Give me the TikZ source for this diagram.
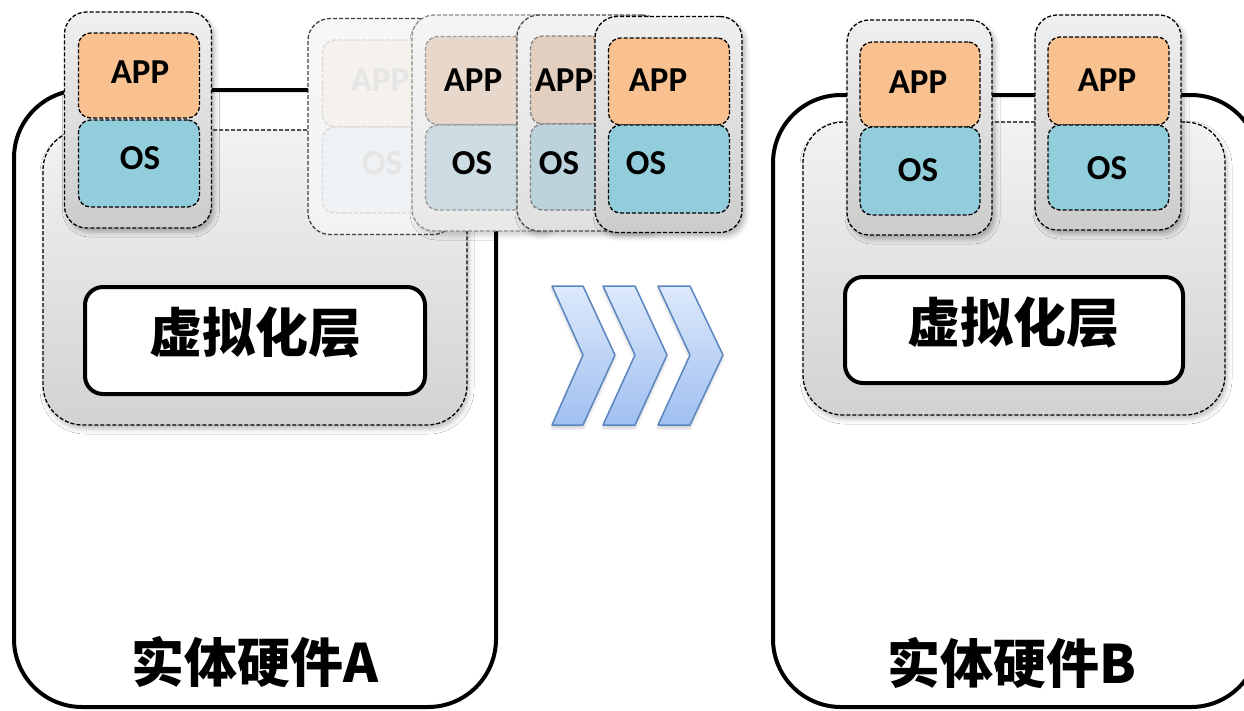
\documentclass[tikz,border=0pt]{standalone}
\usepackage{fontspec}
\setmainfont{Carlito}
\newfontfamily\cjk{Noto Sans CJK SC}
\usetikzlibrary{shadows.blur}
\definecolor{appc}{HTML}{F8C18F}
\definecolor{osc}{HTML}{92CDDC}
\definecolor{chevline}{HTML}{5A86C2}
\definecolor{chevtop}{HTML}{DDE9FB}
\definecolor{chevbot}{HTML}{A0BFF0}
\begin{document}
\begin{tikzpicture}[x=1pt,y=-1pt,
  dsh/.style={dash pattern=on 4pt off 2pt},
  hw/.style={draw=black, line width=4pt, fill=white, rounded corners=68pt, inner sep=0pt},
  layerbox/.style={draw=black, dsh, line width=1.3pt, top color=gray!10, bottom color=gray!35, rounded corners=40pt, inner sep=0pt,
     blur shadow={shadow xshift=2pt, shadow yshift=-4pt, shadow blur radius=5pt, shadow opacity=25}},
  virt/.style={draw=black, line width=4pt, fill=white, rounded corners=18pt, inner sep=0pt},
  vm/.style={dsh, line width=1.3pt, rounded corners=22pt, minimum width=147pt, minimum height=216pt, inner sep=0pt},
  vmfull/.style={vm, draw=black, top color=gray!12, bottom color=gray!40,
     blur shadow={shadow xshift=3pt, shadow yshift=-4pt, shadow blur radius=5pt, shadow opacity=30}},
  inbox/.style={dsh, line width=1.3pt, rounded corners=12pt, minimum width=121pt, inner sep=0pt},
  lbl/.style={font=\bfseries\fontsize{35}{35}\selectfont, inner sep=0pt},
  big/.style={font=\cjk\bfseries\fontsize{53}{53}\selectfont, inner sep=0pt},
  chev/.style={draw=chevline, line width=1.5pt, top color=chevtop, bottom color=chevbot, line join=round}
]
\useasboundingbox (0,0) rectangle (1244,710);

% ---------- Hardware A ----------
\node[hw, minimum width=482pt, minimum height=617pt] (hwA) at (255,398.5) {};
\node[layerbox, minimum width=424pt, minimum height=295pt] (layA) at (255,277.5) {};
\node[virt, minimum width=340pt, minimum height=107pt] (virtA) at (255,340.5) {};
\node[big] (virtAt) at (255,333) {虚拟化层};
\node[big] (hwAt) at (255,662) {实体硬件A};

% VM A1
\node[vmfull] (vmA1) at (138,120) {};
\node[inbox, draw=black, fill=appc, minimum height=85pt] (appA1) at (139,75.5) {};
\node[inbox, draw=black, fill=osc, minimum height=87pt] (osA1) at (139,163.5) {};
\node[lbl] (appA1t) at (140,72) {APP};
\node[lbl] (osA1t) at (140,158) {OS};

% Ghost 1 (faint)
\node[vm, draw=black!75, top color=gray!6, bottom color=gray!10] (g1) at (381.5,126.5) {};
\node[inbox, draw=black!15, fill={rgb,255:red,245;green,241;blue,236}, minimum height=87pt] (g1app) at (383,83.5) {};
\node[inbox, draw=black!15, fill={rgb,255:red,238;green,242;blue,244}, minimum height=86pt] (g1os) at (383,170) {};
\node[lbl, text=black!10] (g1appt) at (380,80) {APP};
\node[lbl, text=black!10] (g1ost) at (382,163) {OS};

% Ghost 2
\node[vm, draw=black!45, top color=gray!8, bottom color=gray!18,
  blur shadow={shadow xshift=3pt, shadow yshift=-4pt, shadow blur radius=5pt, shadow opacity=20}] (g2) at (485.5,123) {};
\node[inbox, draw=black!40, fill={rgb,255:red,232;green,216;blue,203}, minimum height=88pt] (g2app) at (486,80.5) {};
\node[inbox, draw=black!40, fill={rgb,255:red,205;green,220;blue,226}, minimum height=85pt] (g2os) at (486,167.5) {};
\node[lbl] (g2appt) at (473,80) {APP};
\node[lbl] (g2ost) at (472,163) {OS};

% Ghost 3
\node[vm, draw=black!70, top color=gray!10, bottom color=gray!25,
  blur shadow={shadow xshift=3pt, shadow yshift=-4pt, shadow blur radius=5pt, shadow opacity=22}] (g3) at (590.5,123) {};
\node[inbox, draw=black!50, fill={rgb,255:red,226;green,207;blue,191}, minimum height=88pt] (g3app) at (591,80) {};
\node[inbox, draw=black!50, fill={rgb,255:red,188;green,211;blue,220}, minimum height=86pt] (g3os) at (591,167) {};
\node[lbl] (g3appt) at (564,80) {APP};
\node[lbl] (g3ost) at (559,163) {OS};

% Front VM
\node[vmfull] (vmF) at (668.5,124.5) {};
\node[inbox, draw=black, fill=appc, minimum height=87pt] (appF) at (669,81.5) {};
\node[inbox, draw=black, fill=osc, minimum height=88pt] (osF) at (669,169) {};
\node[lbl] (appFt) at (658,80) {APP};
\node[lbl] (osFt) at (646,163) {OS};

% ---------- Chevrons ----------
\shade[chev, blur shadow={shadow xshift=0pt, shadow yshift=-3pt, shadow blur radius=3pt, shadow opacity=20}]
  (552,286) -- (583,286) -- (615,355) -- (583,425) -- (552,425) -- (583,355) -- cycle;
\shade[chev, blur shadow={shadow xshift=0pt, shadow yshift=-3pt, shadow blur radius=3pt, shadow opacity=20}]
  (603,286) -- (635,286) -- (667,355) -- (635,425) -- (603,425) -- (635,355) -- cycle;
\shade[chev, blur shadow={shadow xshift=0pt, shadow yshift=-3pt, shadow blur radius=3pt, shadow opacity=20}]
  (658,286) -- (690,286) -- (723,355) -- (690,425) -- (658,425) -- (690,355) -- cycle;

% ---------- Hardware B ----------
\node[hw, minimum width=486pt, minimum height=612pt] (hwB) at (1016,401) {};
\node[layerbox, minimum width=422pt, minimum height=293pt] (layB) at (1014,268.5) {};
\node[virt, minimum width=338pt, minimum height=106pt] (virtB) at (1014,330) {};
\node[big] (virtBt) at (1013,323) {虚拟化层};
\node[big] (hwBt) at (1012,663) {实体硬件B};

% VM B1
\node[vmfull, minimum width=145pt, minimum height=215pt] (vmB1) at (919.5,127.5) {};
\node[inbox, draw=black, fill=appc, minimum width=120pt, minimum height=85pt] (appB1) at (920,84.5) {};
\node[inbox, draw=black, fill=osc, minimum width=120pt, minimum height=88pt] (osB1) at (920,171) {};
\node[lbl] (appB1t) at (918,82) {APP};
\node[lbl] (osB1t) at (918,170) {OS};

% VM B2
\node[vmfull, minimum width=146pt, minimum height=215pt] (vmB2) at (1108,122.5) {};
\node[inbox, draw=black, fill=appc, minimum width=121pt, minimum height=88pt] (appB2) at (1108.5,81) {};
\node[inbox, draw=black, fill=osc, minimum width=121pt, minimum height=85pt] (osB2) at (1108.5,167.5) {};
\node[lbl] (appB2t) at (1107,80) {APP};
\node[lbl] (osB2t) at (1107,168) {OS};
\end{tikzpicture}
\end{document}
